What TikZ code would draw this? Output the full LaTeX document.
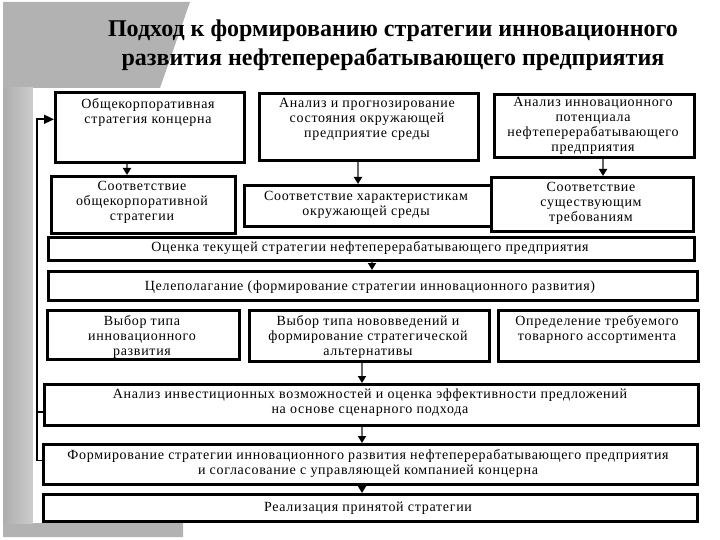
\documentclass[tikz,border=0pt]{standalone}
\usepackage{fontspec}
\setmainfont{Liberation Serif}
\newfontfamily\boxfont[LetterSpace=5]{Liberation Serif}
\usetikzlibrary{arrows.meta}
\tikzset{
  x=1pt, y=-1pt,
  box/.style={draw=black, line width=2.6pt, fill=white, inner sep=0pt, anchor=north west},
  txt/.style={font=\boxfont\fontsize{14}{15}\selectfont, align=center, inner sep=0pt},
  arr/.style={draw=black!60, line width=1.8pt, -{Triangle[color=black, fill=black, width=8pt, length=7pt]}},
  fb/.style={draw=black, line width=1.6pt},
}
\begin{document}
\begin{tikzpicture}
\useasboundingbox (0,0) rectangle (720,540);
% background decoration
\fill[black!30] (3,2) -- (190,2) -- (160,88) -- (33,88) -- (33,523) -- (183,523) -- (183,537) -- (3,537) -- cycle;
\shade[left color=black!32, right color=black!20] (3,88) rectangle (33,523);
\fill[white] (33,88) rectangle (705,523);
% title
\node[font=\bfseries\fontsize{24}{29}\selectfont, align=center, inner sep=0pt] (title) at (393,45)
  {Подход к формированию стратегии инновационного\\развития нефтеперерабатывающего предприятия};
% boxes
\node[box, minimum width=189pt, minimum height=70pt] (A) at (54,91) {};
\node[box, minimum width=219pt, minimum height=67pt] (B) at (258,92) {};
\node[box, minimum width=200pt, minimum height=63pt] (C) at (493,93) {};
\node[box, minimum width=184pt, minimum height=57pt] (D) at (50,175) {};
\node[box, minimum width=247pt, minimum height=41pt] (E) at (243,184) {};
\node[box, minimum width=202pt, minimum height=54pt] (F) at (490,176) {};
\node[box, minimum width=646pt, minimum height=23pt] (G) at (47,236) {};
\node[box, minimum width=649pt, minimum height=29pt] (H) at (47,270) {};
\node[box, minimum width=192pt, minimum height=49pt] (I) at (46,309) {};
\node[box, minimum width=240pt, minimum height=51pt] (J) at (248,309) {};
\node[box, minimum width=200pt, minimum height=51pt] (K) at (497,309) {};
\node[box, minimum width=654pt, minimum height=41pt] (L) at (43,383) {};
\node[box, minimum width=654pt, minimum height=40pt] (M) at (42,443) {};
\node[box, minimum width=654pt, minimum height=27pt] (N) at (42,493) {};
% texts
\node[txt] (tA) at (148,112) {Общекорпоративная\\стратегия концерна};
\node[txt] (tB) at (367,119) {Анализ и прогнозирование\\состояния окружающей\\предприятие среды};
\node[txt] (tC) at (593,126) {Анализ инновационного\\потенциала\\нефтеперерабатывающего\\предприятия};
\node[txt] (tD) at (142,202) {Соответствие\\общекорпоративной\\стратегии};
\node[txt] (tE) at (366,205) {Соответствие характеристикам\\окружающей среды};
\node[txt] (tF) at (591,203) {Соответствие\\существующим\\требованиям};
\node[txt] (tG) at (370,248) {Оценка текущей стратегии нефтеперерабатывающего предприятия};
\node[txt] (tH) at (370,287) {Целеполагание (формирование стратегии инновационного развития)};
\node[txt] (tI) at (142,337) {Выбор типа\\инновационного\\развития};
\node[txt] (tJ) at (368,337) {Выбор типа нововведений и\\формирование стратегической\\альтернативы};
\node[txt] (tK) at (597,329) {Определение требуемого\\товарного ассортимента};
\node[txt] (tL) at (370,403) {Анализ инвестиционных возможностей и оценка эффективности предложений\\на основе сценарного подхода};
\node[txt] (tM) at (368,463) {Формирование стратегии инновационного развития нефтеперерабатывающего предприятия\\и согласование с управляющей компанией концерна};
\node[txt] (tN) at (368,508) {Реализация принятой стратегии};
% arrows
\draw[arr] (A.south -| 127,0) -- (127,0 |- D.north);
\draw[arr] (B.south -| 358,0) -- (358,0 |- E.north);
\draw[arr] (C.south -| 603,0) -- (603,0 |- F.north);
\draw[arr] (G.south -| 372,0) -- (372,0 |- H.north);
\draw[arr] (J.south -| 362,0) -- (362,0 |- L.north);
\draw[arr] (L.south -| 362,0) -- (362,0 |- M.north);
\draw[arr] (M.south -| 362,0) -- (362,0 |- N.north);
% feedback
\coordinate (fbx) at (37,0);
\draw[fb] ([yshift=-7pt]L.west) -- ([yshift=-7pt]L.west -| fbx);
\draw[fb, -{Triangle[width=9pt, length=10pt]}] ([yshift=4pt]M.west) -- ([yshift=4pt]M.west -| fbx) |- ([yshift=8pt]A.west);
\end{tikzpicture}
\end{document}
